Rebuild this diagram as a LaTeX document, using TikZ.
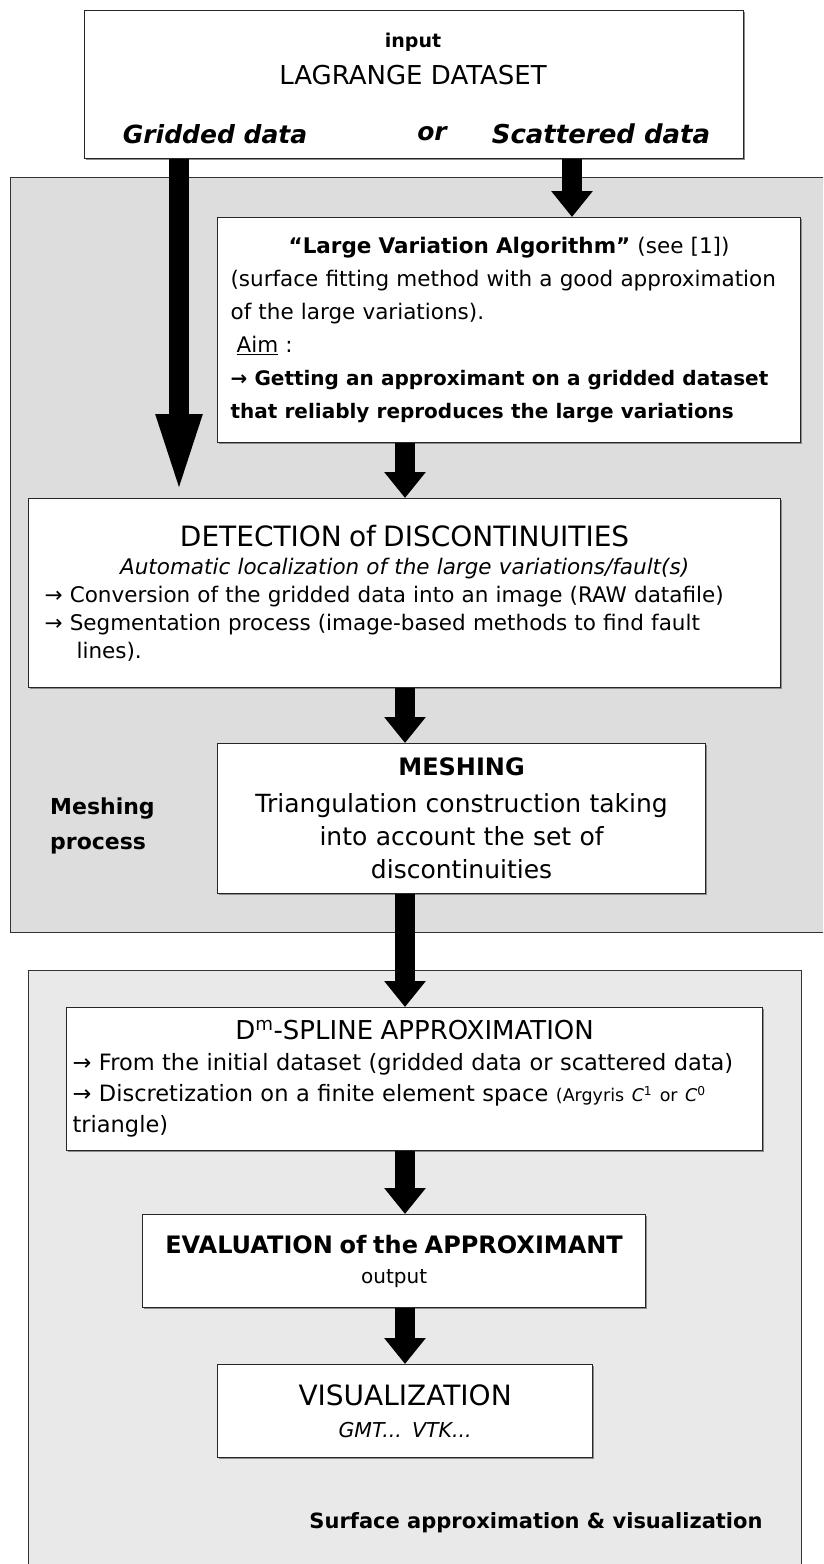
\documentclass[tikz,border=0pt]{standalone}
\usepackage{fontspec}
\setmainfont{DejaVu Sans}
\usetikzlibrary{arrows.meta,positioning,shadows}

\definecolor{panelA}{RGB}{220,221,220}
\definecolor{panelB}{RGB}{233,233,233}

\newcommand{\ctrline}[1]{\makebox[\hsize][c]{#1}}

\tikzset{
	box/.style={draw=black!85, line width=1.2pt, fill=white, inner sep=0pt, anchor=north west,
		drop shadow={shadow xshift=1.5pt, shadow yshift=-1.5pt, fill=black!45, opacity=1}},
	panel/.style={draw=black!80, line width=1.2pt, inner sep=0pt, anchor=north west},
	flow/.style={line width=20pt, -{Triangle[width=40pt,length=26pt]}},
	txt/.style={inner sep=0pt, align=center}
}

\begin{document}
\begin{tikzpicture}[x=1pt,y=-1pt]
	\useasboundingbox (0,0) rectangle (823,1564);
	\clip (0,0) rectangle (823,1564);

	%panels
	\node[panel, fill=panelA, minimum width=830, minimum height=755] (meshpanel) at (10,177) {};
	\node[panel, fill=panelB, minimum width=773, minimum height=640] (surfpanel) at (28,970) {};

	\node[txt, align=left, anchor=west, font=\bfseries\fontsize{22}{35}\selectfont] (meshlabel) at (50,826) {Meshing\\process};
	\node[txt, font=\bfseries\fontsize{21}{30}\selectfont] (surflabel) at (536,1523) {Surface approximation \& visualization};

	%input box
	\node[box, minimum width=659, minimum height=148] (inbox) at (84,10) {};
	\node[txt, font=\bfseries\fontsize{19}{26}\selectfont] (input) at (413,42) {input};
	\node[txt, font=\fontsize{26}{26}\selectfont] (lagrange) at (413,75) {LAGRANGE DATASET};
	\node[txt, font=\bfseries\itshape\fontsize{25}{30}\selectfont] (gridded) at (215,134) {Gridded data};
	\node[txt, font=\bfseries\itshape\fontsize{25}{30}\selectfont] (ortxt) at (432,134) {or};
	\node[txt, font=\bfseries\itshape\fontsize{26}{30}\selectfont] (scattered) at (601,134) {Scattered data};

	%large variation algorithm
	\node[box, minimum width=583, minimum height=225, text width=557, align=left,
		font=\fontsize{21.5}{33}\selectfont] (lva) at (217,217)
		{\noindent\ctrline{\textbf{“Large Variation Algorithm”} (see [1])}\\
		(surface fitting method with a good approximation\\
		of the large variations).\\
		\hspace*{6pt}\underline{Aim} :\\
		{\bfseries\fontsize{20}{33}\selectfont → Getting an approximant on a gridded dataset\\
		that reliably reproduces the large variations}};

	%detection
	\node[box, minimum width=752, minimum height=189, text width=720, align=left,
		font=\fontsize{21.5}{28}\selectfont] (detect) at (28,498)
		{\noindent\ctrline{\fontsize{28}{28}\selectfont DETECTION of DISCONTINUITIES}\\
		\ctrline{\itshape Automatic localization of the large variations/fault(s)}\\
		→ Conversion of the gridded data into an image (RAW datafile)\\
		→ Segmentation process (image-based methods to find fault\\
		\hspace*{32pt}lines).};

	%meshing
	\node[box, minimum width=488, minimum height=150, text width=470, align=center,
		font=\fontsize{25}{33}\selectfont] (mesh) at (217,743)
		{{\bfseries\fontsize{24}{33}\selectfont MESHING}\\[4pt]
		Triangulation construction taking\\
		into account the set of\\
		discontinuities};

	%spline approximation
	\node[box, minimum width=696, minimum height=143, text width=684, align=left,
		font=\fontsize{22.5}{31}\selectfont] (spline) at (66,1007)
		{\noindent\ctrline{\fontsize{26}{31}\selectfont D\textsuperscript{m}-SPLINE APPROXIMATION}\\
		→ From the initial dataset (gridded data or scattered data)\\
		→ Discretization on a finite element space {\fontsize{17.5}{31}\selectfont(Argyris \textit{C}\textsuperscript{1} or \textit{C}\textsuperscript{0}}\\
		triangle)};

	%evaluation
	\node[box, minimum width=503, minimum height=93, text width=490, align=center,
		font=\fontsize{20}{30}\selectfont] (evalbox) at (142,1214)
		{{\bfseries\fontsize{24}{30}\selectfont EVALUATION of the APPROXIMANT}\\
		output};

	%visualization
	\node[box, minimum width=375, minimum height=93, text width=360, align=center,
		font=\fontsize{20.5}{32}\selectfont] (visu) at (217,1364)
		{{\fontsize{28}{32}\selectfont VISUALIZATION}\\
		\textit{GMT... VTK...}};

	%arrows
	\coordinate (leftx) at (179,0);
	\coordinate (rightx) at (572,0);
	\coordinate (midx) at (405,0);

	\draw[flow, -{Triangle[width=40pt,length=84pt]}] (leftx |- inbox.south) -- (leftx |- detect.north);
	\draw[flow] (rightx |- inbox.south) -- (rightx |- lva.north);
	\draw[flow] (midx |- lva.south) -- (midx |- detect.north);
	\draw[flow] (midx |- detect.south) -- (midx |- mesh.north);
	\draw[flow] (midx |- mesh.south) -- (midx |- spline.north);
	\draw[flow] (midx |- spline.south) -- (midx |- evalbox.north);
	\draw[flow] (midx |- evalbox.south) -- (midx |- visu.north);

\end{tikzpicture}
\end{document}
